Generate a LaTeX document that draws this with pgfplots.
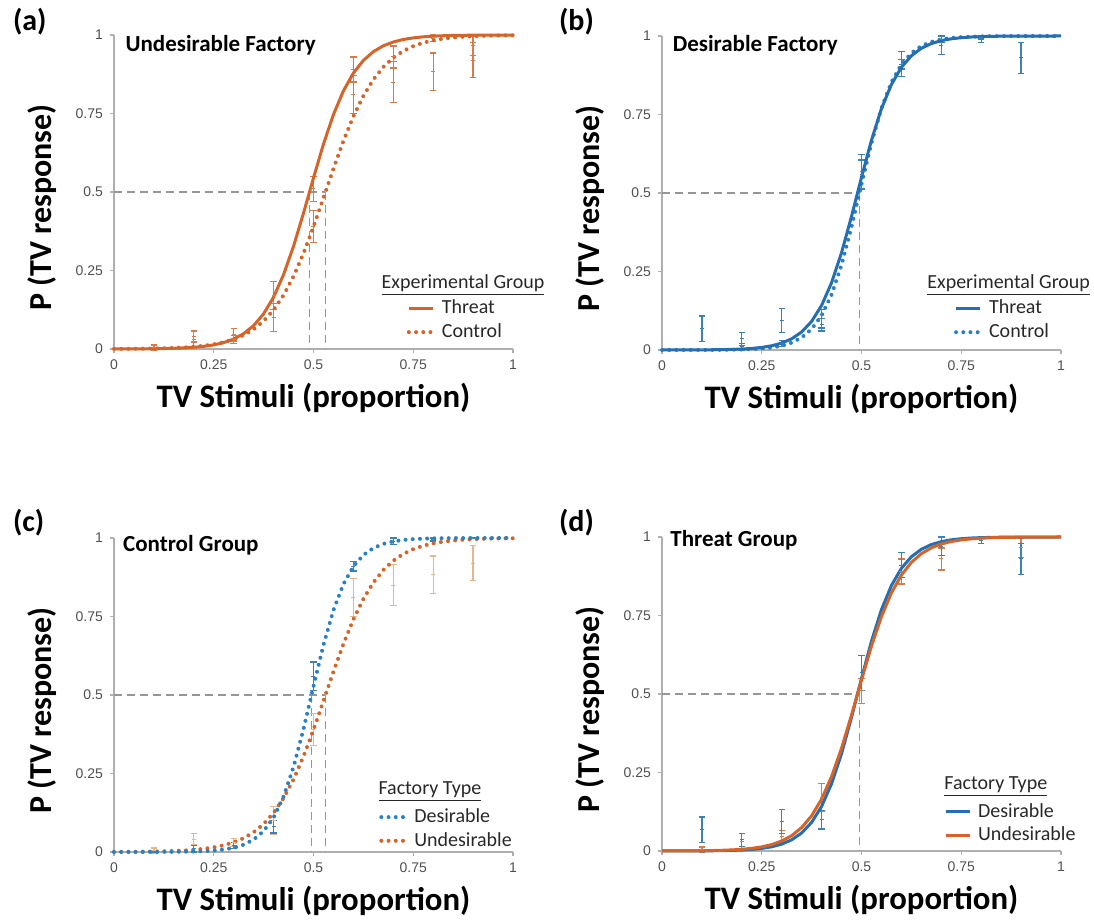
\documentclass[border=0pt]{standalone}
\usepackage{pgfplots}
\usepackage{pgfplotstable}
\pgfplotsset{compat=1.18}
\usepackage{fontspec}
\setmainfont{Carlito}
\newfontfamily\arialfont{Liberation Sans}

\definecolor{orng}{RGB}{214,100,40}
\definecolor{blu}{RGB}{36,110,180}
\definecolor{bluedot}{RGB}{40,128,198}
\definecolor{orngbar}{RGB}{218,122,72}
\definecolor{orngpale}{RGB}{232,182,142}
\definecolor{blubar}{RGB}{60,130,185}
\definecolor{axisgray}{RGB}{175,175,175}
\definecolor{tickgray}{RGB}{80,80,80}
\definecolor{guide}{RGB}{150,150,150}
\definecolor{legtext}{RGB}{40,40,40}

% fitted psychometric curves: x, undesirable-threat, undesirable-control,
% desirable-threat, desirable-control
\pgfplotstableread{
x     at     ac     bt     bc
0.000 0.0001 0.0004 0.0001 0.0000
0.025 0.0002 0.0005 0.0001 0.0000
0.050 0.0004 0.0007 0.0002 0.0001
0.075 0.0006 0.0011 0.0002 0.0001
0.100 0.0009 0.0016 0.0004 0.0002
0.125 0.0014 0.0023 0.0007 0.0003
0.150 0.0022 0.0033 0.0011 0.0005
0.175 0.0034 0.0048 0.0018 0.0009
0.200 0.0054 0.0070 0.0030 0.0015
0.225 0.0084 0.0102 0.0050 0.0026
0.250 0.0131 0.0148 0.0082 0.0045
0.275 0.0204 0.0214 0.0134 0.0078
0.300 0.0317 0.0308 0.0219 0.0135
0.325 0.0488 0.0442 0.0356 0.0232
0.350 0.0745 0.0630 0.0573 0.0395
0.375 0.1121 0.0891 0.0911 0.0666
0.400 0.1652 0.1246 0.1419 0.1101
0.425 0.2369 0.1715 0.2142 0.1765
0.450 0.3274 0.2315 0.3100 0.2709
0.475 0.4329 0.3047 0.4256 0.3917
0.500 0.5449 0.3894 0.5498 0.5275
0.525 0.6525 0.4813 0.6682 0.6593
0.550 0.7465 0.5744 0.7685 0.7703
0.575 0.8220 0.6626 0.8455 0.8532
0.600 0.8787 0.7408 0.9003 0.9097
0.625 0.9191 0.8061 0.9370 0.9458
0.650 0.9469 0.8581 0.9608 0.9680
0.675 0.9655 0.8980 0.9759 0.9813
0.700 0.9777 0.9276 0.9852 0.9891
0.725 0.9857 0.9491 0.9910 0.9937
0.750 0.9908 0.9644 0.9945 0.9964
0.775 0.9941 0.9753 0.9967 0.9979
0.800 0.9962 0.9829 0.9980 0.9988
0.825 0.9976 0.9882 0.9988 0.9993
0.850 0.9985 0.9918 0.9993 0.9996
0.875 0.9990 0.9944 0.9995 0.9998
0.900 0.9994 0.9961 0.9997 0.9999
0.925 0.9996 0.9973 0.9998 0.9999
0.950 0.9997 0.9982 0.9999 1.0000
0.975 0.9998 0.9987 0.9999 1.0000
1.000 0.9999 0.9991 1.0000 1.0000
}\curves

% observed proportions with error (x, mean, error)
\pgfplotstableread{
x   y     e
0.1 0.005 0.008
0.2 0.030 0.025
0.3 0.045 0.020
0.4 0.170 0.045
0.5 0.510 0.040
0.6 0.890 0.040
0.7 0.930 0.035
0.8 0.990 0.010
0.9 0.965 0.030
}\UT
\pgfplotstableread{
x   y     e
0.1 0.005 0.008
0.2 0.040 0.018
0.3 0.030 0.012
0.4 0.100 0.045
0.5 0.390 0.050
0.6 0.810 0.060
0.7 0.850 0.065
0.8 0.883 0.060
0.9 0.920 0.055
}\UC
\pgfplotstableread{
x   y     e
0.1 0.068 0.040
0.2 0.035 0.020
0.3 0.094 0.038
0.4 0.100 0.030
0.5 0.567 0.055
0.6 0.910 0.040
0.7 0.970 0.030
0.8 0.990 0.010
0.9 0.930 0.050
}\DT
\pgfplotstableread{
x   y     e
0.1 0.000 0.000
0.2 0.010 0.010
0.3 0.020 0.010
0.4 0.080 0.020
0.5 0.560 0.045
0.6 0.910 0.015
0.7 0.990 0.010
0.8 0.995 0.005
0.9 1.000 0.000
}\DC

\pgfplotsset{
  panel/.style={
    scale only axis, width=199.5pt, height=157pt, anchor=south west,
    xmin=0, xmax=1, ymin=0, ymax=1, clip=false,
    axis lines=left, axis line style={draw=axisgray, line width=0.6pt, -},
    xtick={0,0.25,0.5,0.75,1}, ytick={0,0.25,0.5,0.75,1},
    xticklabels={0,0.25,0.5,0.75,1}, yticklabels={0,0.25,0.5,0.75,1},
    tick align=outside, major tick length=2pt,
    tick style={draw=axisgray, line width=0.6pt},
    ticklabel style={font=\arialfont\fontsize{7}{8}\selectfont, text=tickgray},
    xlabel={TV Stimuli (proportion)}, ylabel={P (TV response)},
    xlabel style={font=\bfseries\fontsize{16.4}{18}\selectfont,
      at={(axis description cs:0.5,-0.156)}, anchor=center},
    ylabel style={font=\bfseries\fontsize{16}{18}\selectfont,
      at={(axis description cs:-0.18,0.45)}, anchor=center},
    legend cell align=left,
    legend image code/.code={\draw[#1] (0pt,0pt) -- (12pt,0pt);},
    legend style={draw=none, fill=none, anchor=north west,
      font=\fontsize{10}{11}\selectfont, text=legtext,
      inner sep=0pt, row sep=-0.6pt,
      /tikz/every odd column/.append style={column sep=1.5pt}},
  },
  solidc/.style={line width=1.5pt},
  dotc/.style={line width=2pt, line cap=round, dash pattern=on 0pt off 3.6pt},
  guideline/.style={draw=guide, line width=0.7pt, dash pattern=on 4pt off 2.5pt, forget plot},
  ebar/.style={draw=none, forget plot, mark=-, mark size=1pt,
    mark options={draw=#1, line width=0.5pt},
    error bars/.cd, y dir=both, y explicit,
    error bar style={draw=#1, line width=0.65pt},
    error mark options={rotate=90, mark size=1.6pt, draw=#1, line width=0.65pt}},
}
\tikzset{
  ptitle/.style={font=\bfseries\fontsize{11.5}{13}\selectfont, anchor=west, inner sep=0pt},
  ltitle/.style={font=\fontsize{10}{11}\selectfont, text=legtext, anchor=west, inner sep=0pt},
}

\newcommand{\plabel}[3]{\node[font=\bfseries\fontsize{15}{17}\selectfont, anchor=west] at (#1,#2) {#3};}

\begin{document}
\begin{tikzpicture}
\useasboundingbox (0,0) rectangle (547pt,462pt);

% (a) undesirable factory
\begin{axis}[panel, at={(57pt,287.5pt)},
  legend style={at={(0.733,0.17)}}]
  \addplot[guideline] coordinates {(0,0.5) (0.53,0.5)};
  \addplot[guideline] coordinates {(0.49,0.5) (0.49,0)};
  \addplot[guideline] coordinates {(0.53,0.5) (0.53,0)};
  \addplot[ebar=orngbar] table[x=x, y=y, y error=e] {\UC};
  \addplot[ebar=orngbar] table[x=x, y=y, y error=e] {\UT};
  \addplot[orng, dotc, forget plot] table[x=x, y=ac] {\curves};
  \addplot[orng, solidc, forget plot] table[x=x, y=at] {\curves};
  \addlegendimage{orng, solidc}\addlegendentry{Threat}
  \addlegendimage{orng, dotc}\addlegendentry{Control}
  \node[ptitle] at (rel axis cs:0.028,0.968) {Undesirable Factory};
  \node[ltitle] at (rel axis cs:0.67,0.204) {\underline{Experimental Group}};
\end{axis}

% (b) desirable factory
\begin{axis}[panel, at={(331pt,287pt)},
  legend style={at={(0.731,0.173)}}]
  \addplot[guideline] coordinates {(0,0.5) (0.495,0.5)};
  \addplot[guideline] coordinates {(0.495,0.5) (0.495,0)};
  \addplot[ebar=blubar] table[x=x, y=y, y error=e] {\DC};
  \addplot[ebar=blubar] table[x=x, y=y, y error=e] {\DT};
  \addplot[bluedot, dotc, forget plot] table[x=x, y=bc] {\curves};
  \addplot[blu, solidc, forget plot] table[x=x, y=bt] {\curves};
  \addlegendimage{blu, solidc}\addlegendentry{Threat}
  \addlegendimage{bluedot, dotc}\addlegendentry{Control}
  \node[ptitle] at (rel axis cs:0.026,0.971) {Desirable Factory};
  \node[ltitle] at (rel axis cs:0.664,0.207) {\underline{Experimental Group}};
\end{axis}

% (c) control group
\begin{axis}[panel, at={(57pt,36pt)},
  legend style={at={(0.664,0.152)}}]
  \addplot[guideline] coordinates {(0,0.5) (0.53,0.5)};
  \addplot[guideline] coordinates {(0.495,0.5) (0.495,0)};
  \addplot[guideline] coordinates {(0.53,0.5) (0.53,0)};
  \addplot[ebar=orngpale] table[x=x, y=y, y error=e] {\UC};
  \addplot[ebar=blubar] table[x=x, y=y, y error=e] {\DC};
  \addplot[orng, dotc, forget plot] table[x=x, y=ac] {\curves};
  \addplot[bluedot, dotc, forget plot] table[x=x, y=bc] {\curves};
  \addlegendimage{bluedot, dotc}\addlegendentry{Desirable}
  \addlegendimage{orng, dotc}\addlegendentry{Undesirable}
  \node[ptitle] at (rel axis cs:0.022,0.978) {Control Group};
  \node[ltitle] at (rel axis cs:0.662,0.191) {\underline{Factory Type}};
\end{axis}

% (d) threat group
\begin{axis}[panel, at={(331pt,36.5pt)},
  legend style={at={(0.706,0.166)}}]
  \addplot[guideline] coordinates {(0,0.5) (0.495,0.5)};
  \addplot[guideline] coordinates {(0.495,0.5) (0.495,0)};
  \addplot[ebar=orngbar] table[x=x, y=y, y error=e] {\UT};
  \addplot[ebar=blubar] table[x=x, y=y, y error=e] {\DT};
  \addplot[blu, solidc, forget plot] table[x=x, y=bt] {\curves};
  \addplot[orng, solidc, forget plot] table[x=x, y=at] {\curves};
  \addlegendimage{blu, solidc}\addlegendentry{Desirable}
  \addlegendimage{orng, solidc}\addlegendentry{Undesirable}
  \node[ptitle] at (rel axis cs:0.02,0.99) {Threat Group};
  \node[ltitle] at (rel axis cs:0.707,0.204) {\underline{Factory Type}};
\end{axis}

% panel letters
\plabel{3pt}{451pt}{(a)}
\plabel{276pt}{451pt}{(b)}
\plabel{3pt}{200.5pt}{(c)}
\plabel{276pt}{200.5pt}{(d)}
\end{tikzpicture}
\end{document}
